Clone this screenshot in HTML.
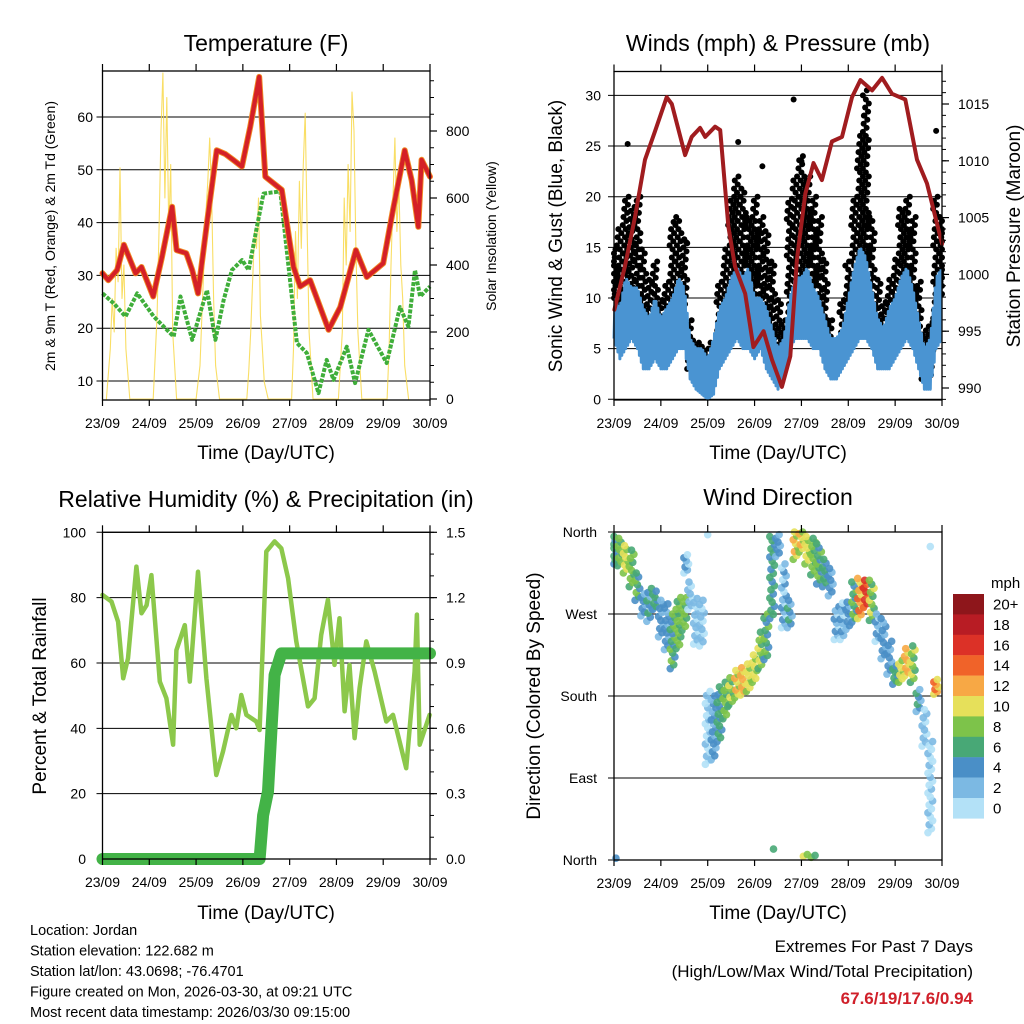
<!DOCTYPE html>
<html><head><meta charset="utf-8"><style>
html,body{margin:0;padding:0;background:#fff;}
svg{display:block;font-family:"Liberation Sans",Arial,sans-serif;}
</style></head><body>
<svg id="chart" width="1024" height="1024" viewBox="0 0 1024 1024" xmlns="http://www.w3.org/2000/svg">
<rect x="0" y="0" width="1024" height="1024" fill="#fff"/>
<text x="266" y="51" font-size="23" text-anchor="middle">Temperature (F)</text>
<text x="778" y="51" font-size="23" text-anchor="middle">Winds (mph) &amp; Pressure (mb)</text>
<text x="266" y="507" font-size="23" text-anchor="middle">Relative Humidity (%) &amp; Precipitation (in)</text>
<text x="778" y="505" font-size="23" text-anchor="middle">Wind Direction</text>
<text x="266" y="459" font-size="19" text-anchor="middle">Time (Day/UTC)</text>
<text x="778" y="459" font-size="19" text-anchor="middle">Time (Day/UTC)</text>
<text x="266" y="919" font-size="19" text-anchor="middle">Time (Day/UTC)</text>
<text x="778" y="919" font-size="19" text-anchor="middle">Time (Day/UTC)</text>
<text transform="translate(55,236) rotate(-90)" font-size="14" text-anchor="middle">2m &amp; 9m T (Red, Orange) &amp; 2m Td (Green)</text>
<text transform="translate(496,236) rotate(-90)" font-size="14" text-anchor="middle">Solar Insolation (Yellow)</text>
<text transform="translate(562,236) rotate(-90)" font-size="19" text-anchor="middle">Sonic Wind &amp; Gust (Blue, Black)</text>
<text transform="translate(1020,236) rotate(-90)" font-size="19" text-anchor="middle">Station Pressure (Maroon)</text>
<text transform="translate(46,696) rotate(-90)" font-size="19" text-anchor="middle">Percent &amp; Total Rainfall</text>
<text transform="translate(540,696) rotate(-90)" font-size="19" text-anchor="middle">Direction (Colored By Speed)</text>
<g font-size="14.5">
<text x="30" y="935">Location: Jordan</text>
<text x="30" y="955.5">Station elevation: 122.682 m</text>
<text x="30" y="976">Station lat/lon: 43.0698; -76.4701</text>
<text x="30" y="996.5">Figure created on Mon, 2026-03-30, at 09:21 UTC</text>
<text x="30" y="1017">Most recent data timestamp: 2026/03/30 09:15:00</text>
</g>
<text x="973" y="952" font-size="17" text-anchor="end">Extremes For Past 7 Days</text>
<text x="973" y="977" font-size="17" text-anchor="end">(High/Low/Max Wind/Total Precipitation)</text>
<text x="973" y="1004" font-size="17" font-weight="bold" fill="#d0202a" text-anchor="end">67.6/19/17.6/0.94</text>
<text x="991" y="588" font-size="15">mph</text>
</svg>
<script>
// ---------- data ----------
const dayLabels=["23/09","24/09","25/09","26/09","27/09","28/09","29/09","30/09"];
const tempH=[0,3,7.5,11,17,20,26,30.5,35.7,38,43,46,49,53.6,58.6,63,67,71.5,75.8,80.4,83.5,92,98,101.4,106.5,116,122,130,135.6,144,149,155,158.6,162,163.7,168];
const tempV=[30.4,29.1,31,35.8,30.4,31.6,26,33.5,43,34.8,34.2,31,26.6,40,53.7,53,51.9,50.6,58.2,67.6,48.7,46.2,31.6,27.9,29.1,19.7,24,34.8,29.7,32.3,42.4,53.7,48,39.2,51.9,48.7];
const tdH=[0,5.8,11.8,17.8,26.3,31.4,36.5,40,46,53.6,57.9,62.1,66.4,71.6,75,79.2,82.6,91.2,99.7,104.8,110.8,115,118.5,125.3,129.6,136.4,145.8,152.6,156.9,160.3,162.9,168];
const tdV=[26.6,24.7,22.2,26.6,22.2,20.3,18.4,26,17.8,27.2,17.8,25.3,31,32.9,31,39.2,45.5,45.9,17.2,15.3,7.7,14,10.2,16.5,9.6,19.7,13.4,24,20.3,31,26,27.9];
const solarH=[2,4,5,6,7,8,9,10,11,12,14, 26,28,29,30,31,32,33,34,35,36,38, 48,50,51,52,53,54,55,56,57,58,60, 74,75,76,77,78,79,80,81,82,83,85, 97,98,99,100,101,102,103,104,105,106,108, 121,123,124,125,126,127,128,129,130,131,133, 146,147,148,149,150,151,152,153,154,155,157];
const solarV=[0,150,300,200,450,350,690,300,400,150,0, 0,250,500,800,973,600,900,500,700,200,0, 0,100,250,400,550,650,779,600,300,100,0, 0,80,200,350,500,450,600,250,150,50,0, 0,150,500,300,650,450,700,853,500,200,0, 0,200,600,400,700,500,916,800,450,200,0, 0,150,400,600,779,500,650,400,300,100,0];
const presH=[0.2,5.6,10.8,15.9,21,27,29.6,36.4,39.8,44.1,46.7,51.8,54.4,58.6,62,67.2,71.4,76.6,80.9,86,90.3,93.7,98,102.2,106.5,111.6,116.8,121.9,126.2,132.2,137.3,142.4,149.2,155.2,160.3,168];
const presV=[996.9,1000.7,1005.1,1010.1,1012.6,1015.6,1015,1010.5,1012.1,1012.9,1012.1,1013,1012.7,1004.2,1000.7,998.3,993.6,995,992.5,990.1,992.8,1001.3,1007.1,1009.8,1008.3,1011.7,1012.1,1015.6,1017.1,1016.2,1017.3,1015.9,1015.4,1010.1,1008,1002.7];
const windLo=[6,4,5,6,5,3,3,4,3,3,4,5,5,2,1,0.5,0,0.5,3,4,5,6,5,5,4,5,3,2,1,2,5,6,6,6,5,5,3,2,2,3,4,5,6,6,5,3,3,3,4,5,6,5,3,1,1,5,6];
const windHi=[10,9,12,11,11,9,8,10,8,9,10,12,11,6,5,5,4,6,9,10,12,13,12,13,10,10,9,7,5,6,10,12,12,13,11,10,8,6,6,7,10,13,15,14,11,8,7,9,10,12,13,11,8,5,6,12,13];
const gustLo=[10,8,10,9,10,6,5,8,5,6,8,10,9,3,2,2,1,2,6,8,10,10,12,10,10,8,7,4,3,3,7,10,12,12,10,8,5,3,3,5,6,10,12,12,10,5,4,5,7,10,10,8,6,2,2,8,10];
const gustHi=[15,17,20,19,20,15,12,14,10,12,17,18,16,8,6,6,5,6,12,15,20,22,21,18,20,18,17,14,10,8,20,22,24,22,20,18,14,8,6,10,14,20,26,30,18,12,10,12,14,19,20,18,12,7,8,20,18];
const gustOutH=[7,30.5,37,63.6,76,92,96,128,129.5,165];
const gustOutV=[25.2,17.5,15.5,25.4,23,29.6,23.5,28,30.5,26.5];
const rhH=[0,4.6,8,10.6,13.1,17.4,20,22.6,25.1,29.4,32.8,36.2,37.9,42.2,44.8,49,53.3,58.4,61.8,66.1,68.6,71.2,73.8,78.9,80.6,84,88.3,91.7,95.2,99.4,105.4,108.8,112.2,115.6,119,121.6,124.2,126.7,129.3,131.9,135.3,139.6,145.6,149,155.8,160.1,161.3,162.7,167.8];
const rhV=[80.8,78.8,72.6,55.3,61.4,89.5,75.2,77.7,86.9,54.3,49.2,35,63.9,71.6,54.3,87.9,55.3,25.7,32.9,44.1,40,50.2,44.1,42.1,39.5,94.1,97.2,95.1,85.9,66.6,46.7,49.2,68.6,79.3,59.4,73.7,45.2,59.4,37,52.3,66.6,57.4,42.1,44.1,27.8,57.4,74.8,35,44.1];
const prH=[0,80.6,82.4,84.9,86.6,88.3,91.7,168];
const prV=[0,0,0.2,0.31,0.58,0.845,0.944,0.944];
const dirH=[0,3,6,9,12,15,18,21,24,27,30,33,36,37,39,42,45,48,51,54,57,60,63,66,69,72,75,78,81,84,87,90,93,96,99,102,105,108,111,114,117,120,123,126,129,132,135,138,141,144,147,150,153,156,159,162,165];
const dirC=[340,338,330,320,300,280,280,285,265,256,240,260,270,325,290,262,260,145,145,160,175,185,193,196,200,210,230,245,310,345,290,270,345,350,340,333,325,315,305,260,262,268,283,287,292,285,255,243,222,203,207,217,215,175,145,80,190];
const dirSpr=[15,15,15,20,15,12,18,10,20,25,30,28,18,10,15,25,25,40,35,30,20,15,15,15,15,15,20,25,45,12,35,15,15,12,15,20,22,15,15,18,20,15,22,22,15,22,15,22,18,10,12,15,20,12,20,50,8];
const dirSpd=[6,8,10,8,7,4,5,6,4,4,7,8,8,3,2,2,2,1,4,6,8,9,11,12,10,10,9,7,6,4,3,5,11,11,10,8,7,6,4,3,3,4,7,13,16,9,3,4,4,6,10,12,9,5,2,1,13];
const dirOutH=[1,48,81.7,97,99,101,103,162];
const dirOutV=[2,357,12,4,6,3,5,344];
const dirOutS=[4,1,7,10,9,8,7,1];
const cbLabels=["20+","18","16","14","12","10","8","6","4","2","0"];
const cbColors=["#8e161b","#b81c24","#dc3127","#f06329","#f7a845","#e6e05a","#7dc34a","#48a876","#4a8fc7","#7cb9e3","#b3e1f7"];

// ---------- helpers ----------
const NS='http://www.w3.org/2000/svg';
const svg=document.getElementById('chart');
function mk(tag,attrs,parent){const e=document.createElementNS(NS,tag);for(const k in attrs)e.setAttribute(k,attrs[k]);(parent||svg).appendChild(e);return e;}
function grp(name){const g=mk('g',{});return g;}
function spdColor(s){let i=Math.floor(s/2);if(i>10)i=10;if(i<0)i=0;return cbColors[10-i];}

const P1={x0:102.5,x1:430,t:71,b:400};
const P2={x0:614,x1:942,t:71.5,b:400};
const P3={x0:102.5,x1:430,t:532.3,b:859};
const P4={x0:614,x1:942,t:532,b:860};
function xOf(P,h){return P.x0+h*(P.x1-P.x0)/168;}
const tempY=v=>381-(v-10)*5.28;
const solarY=v=>399-v*0.335;
const windY=v=>399.3-v*10.13;
const presY=p=>388-(p-990)*11.36;
const rhY=v=>859-v*3.267;
const prY=v=>859-v*217.8;
const dirY=d=>860-d*328/360;

function xAxis(P,name){
  const g=grp(name);
  for(let d=0;d<8;d++){
    const x=xOf(P,d*24);
    const t1=mk('line',{x1:x,x2:x,y1:P.t-7,y2:P.t,stroke:'#000','stroke-width':1.2},g);
    
    
    const t2=mk('line',{x1:x,x2:x,y1:P.b,y2:P.b+6,stroke:'#000','stroke-width':1.2},g);
    
    
    const lb=mk('text',{x:x,y:P.b+28,'font-size':14,'text-anchor':'middle'},g);
    lb.textContent=dayLabels[d];
    
    
  }
}
function leftAxis(P,vals,yf,labels,lx,name,grid){
  const g=grp(name);
  vals.forEach((v,i)=>{
    const y=yf(v);
    if(grid){const gl=mk('line',{x1:P.x0-6,x2:P.x1,y1:y,y2:y,stroke:'#000','stroke-width':1},g);
      
      }
    const lb=mk('text',{x:lx,y:y+5,'font-size':14,'text-anchor':'end'},g);
    lb.textContent=labels[i];
    
    
  });
}
function rightAxis(P,vals,yf,labels,lx,minor,name){
  const g=grp(name);
  minor.forEach(v=>{const y=yf(v);if(y<P.t||y>P.b)return;
    const m=mk('line',{x1:P.x1,x2:P.x1+4,y1:y,y2:y,stroke:'#000','stroke-width':1},g);
    
    });
  vals.forEach((v,i)=>{const y=yf(v);
    const t=mk('line',{x1:P.x1,x2:P.x1+7,y1:y,y2:y,stroke:'#000','stroke-width':1.2},g);
    
    
    const lb=mk('text',{x:lx,y:y+5,'font-size':14},g);
    lb.textContent=labels[i];
    
    });
}
function box(P,name){const r=mk('rect',{x:P.x0,y:P.t,width:P.x1-P.x0,height:P.b-P.t,fill:'none',stroke:'#000','stroke-width':1.3});
  
  }
function line(P,hs,vs,yf,attrs,name,parent){
  const pts=hs.map((h,i)=>xOf(P,h).toFixed(1)+','+yf(vs[i]).toFixed(1)).join(' ');
  const a=Object.assign({points:pts,fill:'none','stroke-linejoin':'round','stroke-linecap':'round'},attrs);
  const e=mk('polyline',a,parent);
  
  
  return e;
}
function range(a,b,s){const r=[];for(let v=a;v<=b+1e-9;v+=s)r.push(+v.toFixed(4));return r;}

// ---------- panel 1: temperature ----------
leftAxis(P1,[10,20,30,40,50,60],tempY,['10','20','30','40','50','60'],93,'temp-left-axis',true);
rightAxis(P1,[0,200,400,600,800],solarY,['0','200','400','600','800'],446,range(0,950,50),'solar-right-axis');
line(P1,solarH,solarV,solarY,{stroke:'#f8d84a','stroke-width':1.1,opacity:0.85},'solar-insolation-line');
line(P1,tdH,tdV,tempY,{stroke:'#3fae3a','stroke-width':4,'stroke-dasharray':'4 1.5','stroke-linecap':'butt'},'dewpoint-line');
line(P1,tempH,tempV,tempY,{stroke:'#f08a24','stroke-width':6},'temp-9m-line');
line(P1,tempH,tempV,tempY,{stroke:'#d42027','stroke-width':4.2},'temp-2m-line');
box(P1,'temp-plot-frame');
xAxis(P1,'temp-x-axis');

// ---------- panel 2: winds ----------
leftAxis(P2,[0,5,10,15,20,25,30],windY,['0','5','10','15','20','25','30'],601,'wind-left-axis',true);
rightAxis(P2,[990,995,1000,1005,1010,1015],presY,['990','995','1000','1005','1010','1015'],958,range(988,1018,1),'pressure-right-axis');
const gG=grp('gust-dots');
for(let i=0;i<gustLo.length;i++){
  const h0=i*3;let j=0;
  for(let v=gustLo[i];v<=gustHi[i];v+=0.4){
    const off=((j*5)%9-4)*0.38;
    const c=mk('circle',{cx:xOf(P2,Math.max(0,Math.min(168,h0+off))),cy:windY(v),r:3,fill:'#000'},gG);
    
    
    j++;
  }
}
gustOutH.forEach((h,i)=>{const c=mk('circle',{cx:xOf(P2,h),cy:windY(gustOutV[i]),r:3,fill:'#000'},gG);
  
  });
const wpts=[];
for(let i=0;i<windLo.length-1;i++){
  for(let k=0;k<6;k++){
    const f=k/6,h=i*3+k*0.5;
    const lo=windLo[i]+f*(windLo[i+1]-windLo[i]);
    const hi=windHi[i]+f*(windHi[i+1]-windHi[i]);
    wpts.push(xOf(P2,h).toFixed(1)+','+windY(k%2?hi:lo).toFixed(1));
  }
}
const wl=mk('polyline',{points:wpts.join(' '),fill:'none',stroke:'#4a94d2','stroke-width':3,'stroke-linejoin':'round'});


line(P2,presH,presV,presY,{stroke:'#a01c1f','stroke-width':4},'pressure-line');
box(P2,'winds-plot-frame');
xAxis(P2,'winds-x-axis');

// ---------- panel 3: humidity ----------
leftAxis(P3,[0,20,40,60,80,100],rhY,['0','20','40','60','80','100'],86,'humidity-left-axis',true);
rightAxis(P3,[0,0.3,0.6,0.9,1.2,1.5],prY,['0.0','0.3','0.6','0.9','1.2','1.5'],446,range(0,1.5,0.1),'precip-right-axis');
line(P3,rhH,rhV,rhY,{stroke:'#8cc84b','stroke-width':4.5},'relative-humidity-line');
line(P3,prH,prV,prY,{stroke:'#43b347','stroke-width':12},'precipitation-line');
box(P3,'humidity-plot-frame');
xAxis(P3,'humidity-x-axis');

// ---------- panel 4: wind direction ----------
leftAxis(P4,[0,90,180,270,360],dirY,['North','East','South','West','North'],597,'direction-left-axis',true);
const dG=grp('direction-dots');
for(let i=0;i<dirH.length;i++){
  const c0=dirC[i],s=dirSpr[i];const n=Math.max(6,Math.round(s/2.2));
  for(let j=0;j<=n;j++){
    const d=c0-s+2*s*j/n;
    const off=((j*3)%5-2)*0.6;
    const sp=dirSpd[i]+((j%3)-1)*1.6;
    const c=mk('circle',{cx:xOf(P4,Math.max(0,Math.min(168,dirH[i]+off))),cy:dirY(Math.max(0,Math.min(360,d))),r:3.8,fill:spdColor(sp),opacity:0.9},dG);
    
    
  }
}
dirOutH.forEach((h,i)=>{const c=mk('circle',{cx:xOf(P4,h),cy:dirY(dirOutV[i]),r:3.8,fill:spdColor(dirOutS[i]),opacity:0.9},dG);
  
  });
box(P4,'direction-plot-frame');
xAxis(P4,'direction-x-axis');
// colorbar
const cb=grp('speed-colorbar');
cbColors.forEach((col,i)=>{
  const y=594+i*20.4;
  const r=mk('rect',{x:953,y:y,width:31,height:20.6,fill:col},cb);
  
  
  const t=mk('text',{x:993,y:y+15.5,'font-size':15},cb);
  t.textContent=cbLabels[i];
  
  
});
</script>
</body></html>
